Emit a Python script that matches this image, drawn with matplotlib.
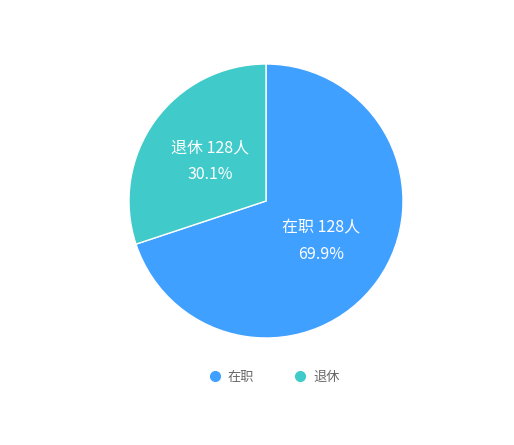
import matplotlib.pyplot as plt
from matplotlib.lines import Line2D

plt.rcParams['font.family'] = ['Noto Sans CJK SC', 'DejaVu Sans']

categories = ["在职", "退休"]
percents = [69.9, 30.1]
counts_text = ["128人", "128人"]
colors = ["#40A0FF", "#40CBCA"]

fig = plt.figure(figsize=(5.14, 4.45), dpi=100)
W, H = 514, 445
cx, cy, r = 266, 201, 137
ax = fig.add_axes([(cx - r) / W, (H - cy - r) / H, 2 * r / W, 2 * r / H])

labels = [f"{c} {t}\n{p}%" for c, t, p in zip(categories, counts_text, percents)]
wedges, texts = ax.pie(percents, colors=colors, startangle=90, counterclock=False,
                       labels=labels, labeldistance=0.5,
                       wedgeprops=dict(edgecolor="white", linewidth=1),
                       textprops=dict(color="white", fontsize=11.5, ha="center",
                                      va="center", linespacing=1.75,
                                      fontweight="medium"))
ax.set_xlim(-1, 1)
ax.set_ylim(-1, 1)
ax.set_aspect("equal")
ax.axis("off")

handles = [Line2D([0], [0], marker="o", linestyle="", markersize=7,
                  markerfacecolor=c, markeredgecolor=c) for c in colors]
fig.legend(handles, categories, loc="center", bbox_to_anchor=(274 / W, 1 - 377 / H),
           ncol=2, frameon=False, fontsize=9.5, labelcolor="#666666",
           handletextpad=0.5, columnspacing=3.0, handlelength=1.0)

fig.savefig("out.png", dpi=100)
